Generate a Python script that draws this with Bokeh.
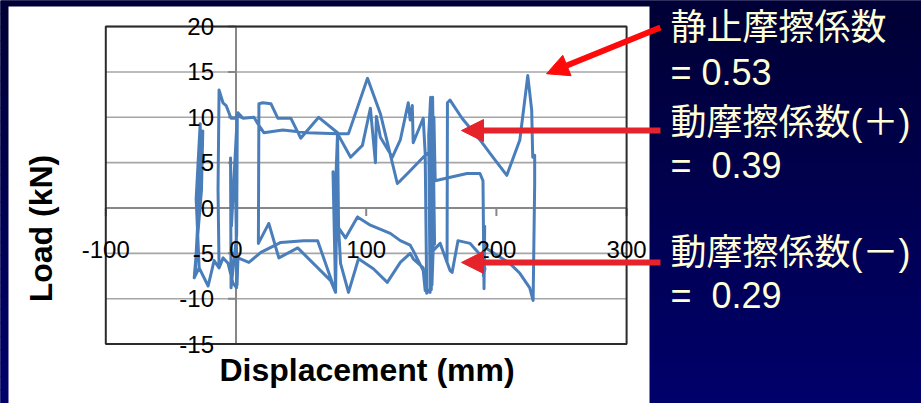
import numpy as np
from bokeh.plotting import figure
from bokeh.models import Range1d, Arrow, NormalHead
from bokeh.core.properties import value
from bokeh.embed import file_html
from bokeh.resources import INLINE

# ---------------- data ----------------
displacement = [
    0.0, 0.5, -2.3, -6.1, -9.9, -13.0, -16.8, -21.4, -28.3,
    -30.6, -27.5, -26.8, -31.5, -29.5, -25.5, -26.5, -32.1, -28.3,
    -21.4, -16.8, -13.0, -13.8, -13.0,
    -10.0, -7.6, -3.8, 0.0, 1.5, 5.4, 13.8, 17.6,
    21.4, 35.9, 55.1, 78.0, 77.5, 76.5,
    72.7, 47.4, 32.9, 25.2, 17.2,
    17.6, 20.6, 26.8, 32.1, 42.1, 49.7, 63.5, 78.0,
    76.0, 74.5, 76.5,
    62.7, 52.0, 34.4, 19.1, 9.9, 1.5,
    0.8, -0.5, 1.0, 0.5, -3.8, -4.2, -3.5, 1.0,
    5.4, 13.8, 17.6, 21.4, 35.9, 55.1, 78.0,
    86.4, 101.0, 110.9, 123.9, 126.2, 133.8, 143.8, 151.4,
    152.5, 151.0, 150.0, 145.3,
    143.8, 136.1, 133.8, 126.2, 118.5, 103.2, 93.3, 84.1, 78.8,
    78.0,
    88.0, 97.1, 103.2, 107.1, 107.8, 110.9, 120.1, 126.2, 132.3, 133.8,
    135.4, 136.1, 143.8, 145.3,
    146.5,
    143.8, 136.1, 133.8, 126.2, 116.2, 105.5, 94.1, 86.4, 80.3,
    78.8, 84.1, 93.3, 103.2, 118.5, 126.2, 133.8, 136.1, 143.8, 145.3,
    149.1, 148.0, 149.5, 150.5, 151.4, 152.0, 153.0,
    162.1, 177.4, 187.4, 189.7,
    190.5, 191.0, 190.0, 191.2,
    189.7, 179.7, 170.5, 166.0, 164.4, 156.8, 151.4,
    156.8, 162.1, 162.4,
    164.4, 173.6, 187.4, 197.3, 208.0, 218.0, 224.1, 227.1, 227.9,
    229.4, 229.4, 228.2,
    225.6, 218.0, 210.3, 192.7,
]
load = [
    0.0, -8.8, -8.3, -6.1, -5.5, -6.6, -5.8, -8.6, -6.6,
    1.0, 9.3, 4.0, -7.5, -2.0, 8.5, 2.0, -7.7, -6.6,
    -8.6, -5.8, -6.6, 2.0, 13.0,
    11.6, 11.3, 9.9, 9.9, 10.5, 9.9, 10.0, 9.1,
    8.3, 8.6, 8.3, 8.2, 2.0, -9.3,
    -8.0, -4.4, -5.5, -1.7, -3.9,
    11.5, 11.6, 11.5, 9.9, 9.9, 7.7, 10.0, 8.3,
    0.5, 4.0, -9.3,
    -3.6, -3.6, -3.8, -4.9, -6.0, -5.5,
    -8.5, 4.0, 10.2, -3.0, -8.8, 5.5, -2.0, 10.2,
    9.9, 10.0, 9.1, 8.3, 8.6, 8.3, 8.2,
    8.2, 14.3, 10.4, 2.7, 3.0, 4.1, 5.6, 6.7,
    -4.0, 12.2, -9.0, -9.1,
    -6.9, -4.7, -4.1, -3.6, -2.8, -1.9, -1.0, -3.3, -2.2,
    8.2,
    5.6, 6.9, 11.0, 5.0, 10.1, 7.8, 5.6, 7.5, 11.6, 9.7,
    11.3, 7.2, 9.9, 6.0,
    -9.4,
    -6.6, -5.6, -5.0, -6.0, -8.2, -6.7, -5.6, -9.3, -6.1,
    -2.2, -3.3, -1.0, -1.9, -2.8, -3.6, -4.1, -4.7, -6.9, -9.1,
    -9.3, 8.0, 12.2, -8.5, -4.7, 10.0, 3.0,
    3.3, 3.8, 3.8, 3.0,
    -8.9, -2.0, -7.5, -6.7,
    -5.5, -3.9, -3.6, -7.1, -6.9, -3.9, -4.7,
    -3.9, -6.0, 11.6,
    11.9, 9.9, 7.5, 5.6, 3.6, 7.5, 14.6, 10.8, 5.6,
    5.8, 2.7, -10.2,
    -8.8, -7.2, -6.1, -4.5,
]

y_ticks = [-15, -10, -5, 0, 5, 10, 15, 20]
y_tick_labels = ["-15", "-10", "-5", "0", "5", "10", "15", "20"]
x_ticks = [-100, 0, 100, 200, 300]
x_tick_labels = ["-100", "0", "100", "200", "300"]
x_title = "Displacement (mm)"
y_title = "Load (kN)"

NBSP = "\u00a0"
notes = ["静止摩擦係数", "= 0.53", "動摩擦係数(＋)", "=" + NBSP + NBSP + "0.39",
         "動摩擦係数(－)", "=" + NBSP + NBSP + "0.29"]

# arrows: (tail displacement, tail load) -> (tip displacement, tip load)
arrow_tail_x = [326.0, 326.0, 326.0]
arrow_tail_y = [19.9, 8.54, -6.0]
arrow_tip_x = [238.5, 173.2, 173.2]
arrow_tip_y = [14.8, 8.54, -6.0]
arrow_colors = ["#FF0A0A", "#E6222B", "#E6222B"]

# ---------------- layout helpers (pixel -> data) ----------------
W, H = 921, 403
X0_PX, X_SCALE = 235.5, 1.302   # px of x=0, px per mm
Y0_PX, Y_SCALE = 207.5, 9.07    # px of y=0, px per kN


def dx(px):
    return (px - X0_PX) / X_SCALE


def dy(py):
    return (Y0_PX - py) / Y_SCALE


p = figure(width=W, height=H,
           x_range=Range1d(dx(0), dx(W)), y_range=Range1d(dy(H), dy(0)),
           output_backend="svg", toolbar_location=None, min_border=0)
p.axis.visible = False
p.grid.visible = False
p.outline_line_color = None
p.background_fill_color = "#000050"
p.border_fill_color = "#000050"

# navy gradient background
n_bands = 30
edges = np.linspace(dy(0), dy(H), n_bands + 1)
t = np.linspace(0, 1, n_bands)
band_cols = ["#%02x%02x%02x" % (0, 0, int(0x36 + (0x6a - 0x36) * v)) for v in t]
p.quad(left=dx(0), right=dx(W), top=edges[:-1], bottom=edges[1:],
       fill_color=band_cols, line_color=band_cols, line_width=1)

# white chart box
p.quad(left=dx(8), right=dx(649), top=dy(6), bottom=dy(H + 5),
       fill_color="white", line_color=None)

# horizontal gridlines
p.segment(x0=[-100] * len(y_ticks), x1=[300] * len(y_ticks), y0=y_ticks, y1=y_ticks,
          line_color="#A6A6A6", line_width=1.6)

# axes crossing at origin
p.segment(x0=[0], y0=[-15], x1=[0], y1=[20], line_color="#878787", line_width=2)
p.segment(x0=[-100], y0=[0], x1=[300], y1=[0], line_color="#878787", line_width=2)
p.segment(x0=[0] * len(y_ticks), x1=[dx(X0_PX - 8)] * len(y_ticks), y0=y_ticks, y1=y_ticks,
          line_color="#878787", line_width=2)
p.segment(x0=x_ticks, x1=x_ticks, y0=[0] * len(x_ticks), y1=[dy(Y0_PX + 8)] * len(x_ticks),
          line_color="#878787", line_width=2)

# plot-area border
p.quad(left=-100, right=300, bottom=-15, top=20, fill_color=None,
       line_color="#2b2b2b", line_width=2)

# data series
p.line(displacement, load, line_color="#4A7EBB", line_width=3, line_join="round")

# tick labels
p.text(x=[0] * len(y_ticks), y=y_ticks, text=y_tick_labels, x_offset=-22,
       text_align="right", text_baseline="middle",
       text_font=value("Liberation Sans"), text_font_size="24px", text_color="black")
p.text(x=x_ticks, y=[0] * len(x_ticks), text=x_tick_labels, y_offset=41,
       text_align="center", text_baseline="middle",
       text_font=value("Liberation Sans"), text_font_size="24px", text_color="black")

# axis titles
p.text(x=[dx(40)], y=[dy(228)], text=[y_title], angle=np.pi / 2,
       text_align="center", text_baseline="middle", text_font=value("Liberation Sans"),
       text_font_style="bold", text_font_size="32px", text_color="black")
p.text(x=[dx(366.5)], y=[dy(369)], text=[x_title],
       text_align="center", text_baseline="middle", text_font=value("Liberation Sans"),
       text_font_style="bold", text_font_size="32px", text_color="black")

# annotations on the right
note_y = [dy(27), dy(71.5), dy(122), dy(165), dy(252), dy(295)]
p.text(x=[dx(670)] * len(notes), y=note_y, text=notes,
       text_align="left", text_baseline="middle",
       text_font=value("Liberation Sans, Noto Sans CJK JP"), text_font_size="36px",
       text_color="#FFFFD8")

for xs, ys, xe, ye, c in zip(arrow_tail_x, arrow_tail_y, arrow_tip_x, arrow_tip_y, arrow_colors):
    p.add_layout(Arrow(end=NormalHead(size=22, fill_color=c, line_color=c),
                       x_start=xs, y_start=ys, x_end=xe, y_end=ye,
                       line_color=c, line_width=6))

open("out.html", "w").write(file_html(p, INLINE))
